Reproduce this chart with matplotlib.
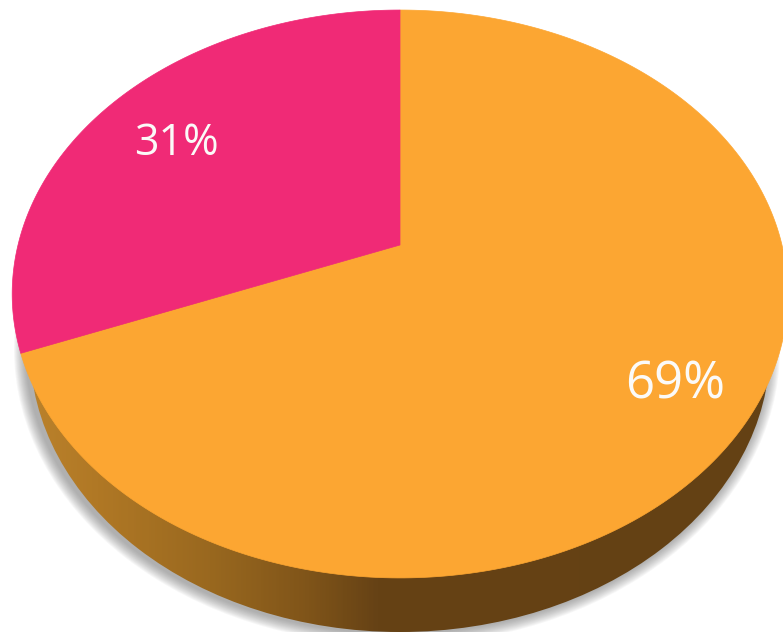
import numpy as np
import matplotlib
matplotlib.use('Agg')
import matplotlib.pyplot as plt
from matplotlib.patches import Ellipse
from matplotlib.colors import LinearSegmentedColormap

# share of each slice, clockwise from the top
shares = [69, 31]
labels = ['69%', '31%']
colors = ['#FCA632', '#F02A76']

# perspective of the pie top
a, b, k = 382, 275.5, 0.1725
cx, cy = 400, 245


def project(theta):
    x = np.sin(theta)
    y = np.cos(theta)
    d = 1 + k * y
    return cx + a * x / d, cy - b * y / d


fig = plt.figure(figsize=(7.83, 6.32), dpi=100)
ax = fig.add_axes([0, 0, 1, 1])

# soft shadow under the pie
for s in np.arange(12, 0, -1):
    ax.add_patch(Ellipse((397, 349), 2 * (371 + s), 2 * (284 + s), color='#606060',
                         alpha=0.05, lw=0, zorder=1))

# side wall, light on the left and dark from the middle on
wall_cmap = LinearSegmentedColormap.from_list('wall', [
    (0.0, '#BC832C'), (0.1, '#B07825'), (0.25, '#99681F'),
    (0.38, '#7F5419'), (0.47, '#664215'), (1.0, '#644114')])
wall = ax.imshow(np.linspace(0, 1, 400).reshape(1, -1), cmap=wall_cmap, aspect='auto',
                 extent=[20, 780, 640, 300], zorder=2)
rim = Ellipse((400, 348), 740, 568, fc='none', ec='none', transform=ax.transData)
ax.add_patch(rim)
wall.set_clip_path(rim)

# top of the pie
start = 0
for share, color in zip(shares, colors):
    end = start + share / sum(shares) * 2 * np.pi
    t = np.linspace(start, end, 300)
    xs, ys = project(t)
    ax.fill(np.r_[cx, xs], np.r_[cy, ys], color=color, lw=0.5, zorder=3)
    start = end

ax.text(675, 385, labels[0], color='#FBFAF8', fontsize=36.5, family='Open Sans',
        ha='center', va='center', zorder=4)
ax.text(176, 144, labels[1], color='#FBFAF8', fontsize=31, family='Open Sans',
        ha='center', va='center', zorder=4)

ax.set_xlim(0, 783)
ax.set_ylim(632, 0)
ax.axis('off')
fig.savefig('out.png', dpi=100)
